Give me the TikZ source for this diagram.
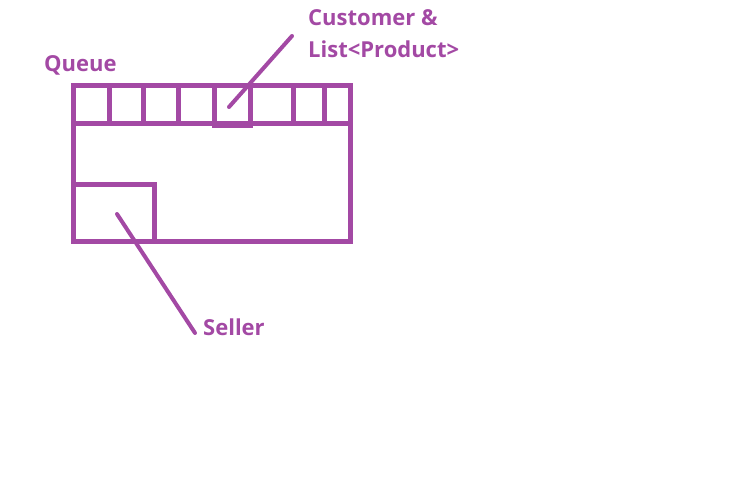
\documentclass[tikz,border=0pt]{standalone}
\usepackage{fontspec}
\setmainfont{Open Sans}
\definecolor{paintpurple}{RGB}{163,73,164}
\begin{document}
\begin{tikzpicture}[x=1pt,y=-1pt,every node/.style={inner sep=0pt},
    box/.style={draw=paintpurple,line width=5pt},
    pointer/.style={draw=paintpurple,line width=4pt,line cap=round},
    lbl/.style={text=paintpurple,font=\bfseries\fontsize{22}{32}\selectfont,anchor=base west,align=left}]
    \useasboundingbox (0,0) rectangle (737,489);
    % queue with its cells
    \draw[box] (73,86) rectangle (350,241.5);
    \draw[box] (73,124) -- (350,124);
    \foreach \x in {109.5,143,178,293,324.5}
        \draw[box] (\x,86) -- (\x,124);
    \node[box,minimum width=36.5pt,minimum height=40pt] (cust) at (232.25,106) {};
    \node[box,minimum width=81.5pt,minimum height=56.5pt] (seller) at (113.75,213.25) {};
    % labels
    \node[lbl] (queue) at (44,72) {Queue};
    \node[lbl] (custlbl) at (308,58) {Customer \&\\List<Product>};
    \node[lbl] (sellerlbl) at (203,336) {Seller};
    \coordinate (custtip) at (229,107);
    \coordinate (custend) at (292,36);
    \coordinate (sellertip) at (117,214);
    \coordinate (sellerend) at (195,333);
    \draw[pointer] (custtip)--(custend);
    \draw[pointer] (sellertip)--(sellerend);
\end{tikzpicture}
\end{document}
